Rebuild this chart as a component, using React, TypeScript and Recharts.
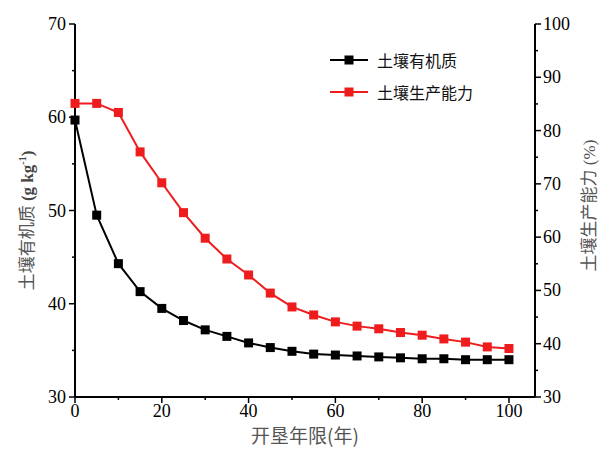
import { Legend, Line, LineChart, XAxis, YAxis } from 'recharts';

const years = [0, 5, 10, 15, 20, 25, 30, 35, 40, 45, 50, 55, 60, 65, 70, 75, 80, 85, 90, 95, 100];
const organicMatter = [
  59.7, 49.5, 44.3, 41.3, 39.5, 38.2, 37.2, 36.5, 35.8, 35.3, 34.9, 34.6, 34.5, 34.4, 34.3, 34.2,
  34.1, 34.1, 34.0, 34.0, 34.0,
];
const productivity = [
  85.1, 85.1, 83.4, 76.0, 70.2, 64.6, 59.8, 55.9, 52.9, 49.5, 46.9, 45.4, 44.1, 43.3, 42.8, 42.1,
  41.6, 40.9, 40.3, 39.4, 39.1,
];
const xTicks = [0, 10, 20, 30, 40, 50, 60, 70, 80, 90, 100];
const leftTicks = [30, 35, 40, 45, 50, 55, 60, 65, 70];
const rightTicks = [30, 35, 40, 45, 50, 55, 60, 65, 70, 75, 80, 85, 90, 95, 100];

const data = years.map((year, i) => ({
  year,
  organicMatter: organicMatter[i],
  productivity: productivity[i],
}));

const SERIF = "'Liberation Serif', 'DejaVu Serif', serif";
const CJK = "'Noto Sans CJK SC', sans-serif";
const RED = '#ee1c1c';
const serifStyle = { fontFamily: SERIF };
const cjkStyle = { fontFamily: CJK };

function LeftTick({ x, y, payload }: any) {
  const major = payload.value % 10 === 0;
  return (
    <g>
      <line x1={x} x2={x - (major ? 6 : 3)} y1={y} y2={y} stroke="#000" strokeWidth={1.5} />
      {major && (
        <text x={x - 9} y={y} dy={6} textAnchor="end" style={serifStyle} fontSize={18} fill="#000">
          {payload.value}
        </text>
      )}
    </g>
  );
}

function RightTick({ x, y, payload }: any) {
  const major = payload.value % 10 === 0;
  return (
    <g>
      <line x1={x} x2={x + (major ? 6 : 3)} y1={y} y2={y} stroke="#000" strokeWidth={1.5} />
      {major && (
        <text x={x + 8} y={y} dy={6} textAnchor="start" style={serifStyle} fontSize={18} fill="#000">
          {payload.value}
        </text>
      )}
    </g>
  );
}

function BottomTick({ x, y, payload }: any) {
  const major = payload.value % 20 === 0;
  return (
    <g>
      <line x1={x} x2={x} y1={y} y2={y + (major ? 6 : 3)} stroke="#000" strokeWidth={1.5} />
      {major && (
        <text x={x} y={y} dy={20} textAnchor="middle" style={serifStyle} fontSize={18} fill="#000">
          {payload.value}
        </text>
      )}
    </g>
  );
}

function SquareDot(color: string) {
  return (p: any) => (
    <rect key={p.index} x={p.cx - 4.5} y={p.cy - 4.5} width={9} height={9} fill={color} />
  );
}

function LegendBox({ payload }: any) {
  return (
    <div style={{ position: 'relative', width: 0, height: 0 }}>
      <div style={{ position: 'absolute', left: 330, top: 44, whiteSpace: 'nowrap' }}>
        {(payload || []).map((entry: any) => (
          <div key={entry.value} style={{ display: 'flex', alignItems: 'center', height: 32 }}>
            <svg width={38} height={10}>
              <line x1={0} x2={38} y1={5} y2={5} stroke={entry.color} strokeWidth={2} />
              <rect x={14.5} y={0.5} width={9} height={9} fill={entry.color} />
            </svg>
            <span style={{ marginLeft: 9, fontFamily: CJK, fontSize: 16, color: '#111' }}>{entry.value}</span>
          </div>
        ))}
      </div>
    </div>
  );
}

function LeftTitle({ viewBox }: any) {
  const cx = viewBox.x + 27;
  const cy = viewBox.y + viewBox.height / 2 + 10;
  return (
    <text x={cx} y={cy} dy={6} transform={`rotate(-90, ${cx}, ${cy})`} textAnchor="middle" fill="#555" fontSize={17}>
      <tspan style={cjkStyle}>土壤有机质</tspan>
      <tspan style={serifStyle} fontWeight="bold" fill="#444"> (g kg</tspan>
      <tspan style={serifStyle} fontWeight="bold" fill="#444" fontSize={10} dy={-7}>-1</tspan>
      <tspan style={serifStyle} fontWeight="bold" fill="#444" dy={7}>)</tspan>
    </text>
  );
}

function RightTitle({ viewBox }: any) {
  const cx = viewBox.x + 54;
  const cy = viewBox.y + viewBox.height / 2 - 5;
  return (
    <text x={cx} y={cy} dy={6} transform={`rotate(-90, ${cx}, ${cy})`} textAnchor="middle" fill="#555" fontSize={17}>
      <tspan style={cjkStyle}>土壤生产能力</tspan>
      <tspan style={serifStyle}> (%)</tspan>
    </text>
  );
}

function BottomTitle({ viewBox }: any) {
  const cx = viewBox.x + viewBox.width / 2;
  return (
    <text x={cx} y={viewBox.y + 46} textAnchor="middle" fill="#555" fontSize={19} style={cjkStyle}>
      开垦年限(年)
    </text>
  );
}

export default function App() {
  return (
    <div style={{ position: 'absolute', left: 0, top: 0 }}>
      <LineChart width={607} height={463} data={data} margin={{ top: 24, right: 0, bottom: 0, left: 0 }}>
        <XAxis
          dataKey="year"
          type="number"
          domain={[0, 106]}
          ticks={xTicks}
          interval={0}
          height={66}
          tickSize={0}
          tickMargin={0}
          tickLine={false}
          tick={<BottomTick />}
          axisLine={{ stroke: '#000', strokeWidth: 2 }}
          label={<BottomTitle />}
        />
        <XAxis
          xAxisId="top"
          orientation="top"
          type="number"
          domain={[0, 106]}
          height={0}
          tick={false}
          tickLine={false}
          axisLine={{ stroke: '#000', strokeWidth: 2 }}
        />
        <YAxis
          yAxisId="left"
          orientation="left"
          type="number"
          domain={[30, 70]}
          ticks={leftTicks}
          interval={0}
          width={75}
          tickSize={0}
          tickMargin={0}
          tickLine={false}
          tick={<LeftTick />}
          axisLine={{ stroke: '#000', strokeWidth: 2 }}
          label={<LeftTitle />}
        />
        <YAxis
          yAxisId="right"
          orientation="right"
          type="number"
          domain={[30, 100]}
          ticks={rightTicks}
          interval={0}
          width={72}
          tickSize={0}
          tickMargin={0}
          tickLine={false}
          tick={<RightTick />}
          axisLine={{ stroke: '#000', strokeWidth: 2 }}
          label={<RightTitle />}
        />
        <Legend
          verticalAlign="top"
          content={<LegendBox />}
          wrapperStyle={{ top: 0, left: 0, width: 607, height: 0 }}
        />
        <Line
          yAxisId="left"
          dataKey="organicMatter"
          name="土壤有机质"
          stroke="#000"
          strokeWidth={2}
          dot={SquareDot('#000')}
          isAnimationActive={false}
        />
        <Line
          yAxisId="right"
          dataKey="productivity"
          name="土壤生产能力"
          stroke={RED}
          strokeWidth={2}
          dot={SquareDot(RED)}
          isAnimationActive={false}
        />
      </LineChart>
    </div>
  );
}
